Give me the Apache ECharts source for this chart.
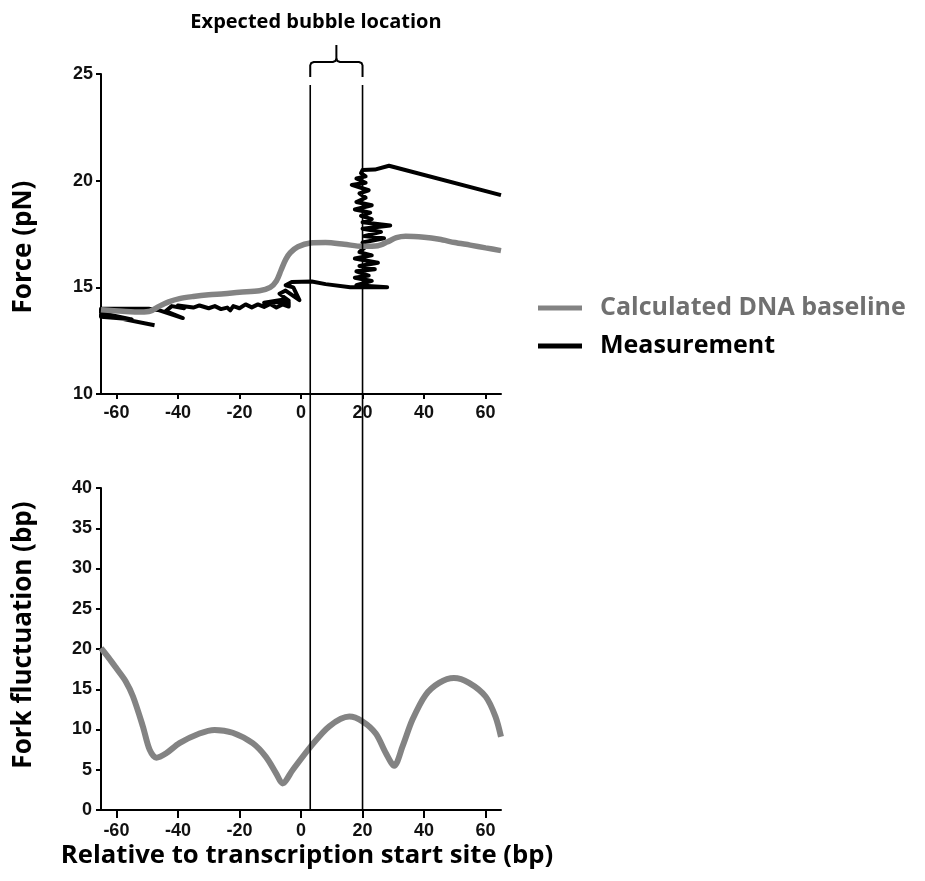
<!DOCTYPE html>
<html><head><meta charset="utf-8">
<script src="https://cdn.jsdelivr.net/npm/echarts@6/dist/echarts.min.js"></script>
<style>html,body{margin:0;padding:0;background:#fff}#c{width:925px;height:881px}</style>
</head><body><div id="c"></div>
<script>
// ---- data ----
const xTickValues = [-60, -40, -20, 0, 20, 40, 60];
const bubbleBounds = [3, 20];
const baselineForce = [
  [-65,13.95],[-58,13.88],[-52,13.84],[-49,13.88],[-46,14.12],[-43,14.32],[-39.5,14.47],[-35,14.57],
  [-30,14.65],[-25,14.7],[-20,14.77],[-13.5,14.84],[-10,15.0],[-8,15.3],[-6.5,15.8],[-5,16.3],
  [-3.5,16.62],[-1,16.9],[3,17.08],[8,17.1],[14,17.02],[20,16.92],[25,16.95],[28,17.12],[31,17.33],
  [34,17.4],[40,17.35],[45,17.25],[50,17.1],[55,16.98],[60,16.85],[65,16.72]
];
const measurementForce = [
  [-47.6,13.22],[-65,13.72],[-65,13.62],[-55,13.5],[-65,13.8],[-65,14.0],[-49.5,14.0],[-46,13.92],[-38.4,13.56],
  [-44,13.88],[-42,14.12],[-38,14.02],[-40,14.15],[-35,14.05],[-33,14.15],[-30,14.02],[-28,14.12],
  [-26,13.98],[-24,14.05],[-23,13.92],[-22,14.12],[-20,14.02],[-18,14.2],[-16,14.06],[-14,14.2],
  [-12,14.08],[-10,14.22],[-8,14.05],[-6,14.2],[-4,14.1],[-4,14.32],[-12,14.28],[-6,14.42],[-4,14.38],
  [-7,14.7],[-5,14.85],[-0.5,14.4],[-2.5,15.0],[-5,15.1],[-3,15.25],[3.5,15.27],[8,15.15],[16,15.0],[28,15.0],
  [18,15.1],[23,15.3],[17.5,15.45],[22,15.55],[18,15.75],[24,15.85],[19,16.0],[25,16.15],[17.5,16.35],
  [23,16.5],[19,16.65],[21,16.9],[20,17.1],[27,17.3],[20.5,17.4],[26,17.6],[20,17.75],[29,17.9],
  [20,18.05],[23,18.2],[19.5,18.35],[22.5,18.5],[17.5,18.65],[23,18.85],[18,19.0],[21,19.2],[19,19.4],
  [22,19.55],[16.5,19.8],[21,19.9],[18,20.1],[21,20.2],[19.5,20.35],[20,20.5],[24,20.52],[28.6,20.7],
  [65,19.32]
];
const forkFluctuation = [
  [-65,20.1],[-62.5,18.9],[-60,17.6],[-57,16.0],[-54.6,14.1],[-51.4,10.4],[-49.2,7.5],[-47,6.5],
  [-43.8,7.05],[-39.5,8.3],[-33,9.5],[-28.1,9.95],[-22.2,9.6],[-15.7,8.3],[-11.4,6.6],[-8.1,4.56],
  [-6,3.3],[-2.7,4.97],[3.2,7.9],[9.2,10.4],[15.7,11.6],[20,11.0],[24.3,9.5],[27.6,7.05],[30.3,5.5],
  [33,7.9],[36.2,11.2],[40.5,14.3],[44.9,15.8],[49.7,16.4],[54.6,15.8],[60,14.1],[63.2,11.6],[65,9.1]
];
const seriesNames = ['Calculated DNA baseline', 'Measurement'];
const titleText = 'Expected bubble location';
const xTitle = 'Relative to transcription start site (bp)';
const yTitleTop = 'Force (pN)';
const yTitleBottom = 'Fork fluctuation (bp)';

// ---- chart ----
const chart = echarts.init(document.getElementById('c'), null, {renderer: 'canvas'});
const tickFont = {fontFamily: 'Liberation Sans, Arial, sans-serif', fontSize: 18, fontWeight: 'bold', color: '#111'};
function xAx(gi, tickLen, margin) {
  return {
    type: 'value', gridIndex: gi, min: -65, max: 65,
    axisLine: {show: true, onZero: false, lineStyle: {color: '#000', width: 2}},
    axisTick: {show: true, length: tickLen, lineStyle: {color: '#000', width: 2}, customValues: xTickValues},
    axisLabel: Object.assign({margin: margin, customValues: xTickValues}, tickFont),
    splitLine: {show: false}
  };
}
function yAx(gi, min, max, margin) {
  return {
    type: 'value', gridIndex: gi, min: min, max: max, interval: 5,
    axisLine: {show: true, onZero: false, lineStyle: {color: '#000', width: 2}},
    axisTick: {show: true, length: 5, lineStyle: {color: '#000', width: 2}},
    axisLabel: Object.assign({margin: margin}, tickFont),
    splitLine: {show: false}
  };
}
const option = {
  backgroundColor: '#fff',
  animation: false,
  grid: [
    {left: 101, width: 400, top: 74, height: 320},
    {left: 101, width: 400, top: 488, height: 322},
    {left: 101, width: 400, top: 85, height: 725}
  ],
  xAxis: [xAx(0, 5, 10), xAx(1, 8, 12),
    {type: 'value', gridIndex: 2, min: -65, max: 65, show: false}],
  yAxis: [yAx(0, 10, 25, 8), yAx(1, 0, 40, 9),
    {type: 'value', gridIndex: 2, min: 0, max: 1, show: false}],
  legend: {
    orient: 'vertical', left: 538, top: 295, padding: 0, itemGap: 12, itemWidth: 44, itemHeight: 5,
    icon: 'rect',
    data: [
      {name: seriesNames[0], textStyle: {color: '#707070'}},
      {name: seriesNames[1], textStyle: {color: '#000'}}
    ],
    textStyle: {fontFamily: 'Open Sans', fontWeight: 'bold', fontSize: 25, lineHeight: 26, padding: [0, 0, 0, 13]}
  },
  series: [
    {name: seriesNames[1], type: 'line', xAxisIndex: 0, yAxisIndex: 0, data: measurementForce,
      symbol: 'none', z: 2, lineStyle: {color: '#000', width: 4, join: 'round'}, itemStyle: {color: '#000'}},
    {name: seriesNames[0], type: 'line', xAxisIndex: 0, yAxisIndex: 0, data: baselineForce,
      symbol: 'none', smooth: 0.3, z: 3, lineStyle: {color: '#838383', width: 5.5}, itemStyle: {color: '#838383'}},
    {name: 'fork', type: 'line', xAxisIndex: 1, yAxisIndex: 1, data: forkFluctuation,
      symbol: 'none', smooth: 0.3, z: 3, lineStyle: {color: '#838383', width: 6}},
    {name: 'left bound', type: 'line', xAxisIndex: 2, yAxisIndex: 2, symbol: 'none', z: 5, silent: true,
      data: [[bubbleBounds[0], 0], [bubbleBounds[0], 1]], lineStyle: {color: '#000', width: 1.6}},
    {name: 'right bound', type: 'line', xAxisIndex: 2, yAxisIndex: 2, symbol: 'none', z: 5, silent: true,
      data: [[bubbleBounds[1], 0], [bubbleBounds[1], 1]], lineStyle: {color: '#000', width: 1.6}}
  ]
};
chart.setOption(option);

const xL = chart.convertToPixel({xAxisIndex: 2}, bubbleBounds[0]);
const xR = chart.convertToPixel({xAxisIndex: 2}, bubbleBounds[1]);
const xM = (xL + xR) / 2;
const braceStyle = {stroke: '#000', lineWidth: 2, fill: null};
chart.setOption({
  graphic: [
    {type: 'polyline', shape: {points: [[xL,77],[xL,65.5],[xL+1,63],[xL+3.5,62],[xM-3.5,62],[xM-1,61],[xM,58.5],[xM,45]]}, style: braceStyle},
    {type: 'polyline', shape: {points: [[xR,77],[xR,65.5],[xR-1,63],[xR-3.5,62],[xM+3.5,62],[xM+1,61],[xM,58.5]]}, style: braceStyle},
    {type: 'text', x: 316, y: 22, style: {text: titleText, font: 'bold 20px "Open Sans"', fill: '#000', align: 'center', verticalAlign: 'middle'}},
    {type: 'text', x: 307, y: 856, style: {text: xTitle, font: 'bold 25.7px "Open Sans"', fill: '#000', align: 'center', verticalAlign: 'middle'}},
    {type: 'text', x: 24, y: 247, rotation: Math.PI / 2, style: {text: yTitleTop, font: 'bold 26px "Open Sans"', fill: '#000', align: 'center', verticalAlign: 'middle'}},
    {type: 'text', x: 24, y: 635, rotation: Math.PI / 2, style: {text: yTitleBottom, font: 'bold 26px "Open Sans"', fill: '#000', align: 'center', verticalAlign: 'middle'}}
  ]
});
</script>
</body></html>
